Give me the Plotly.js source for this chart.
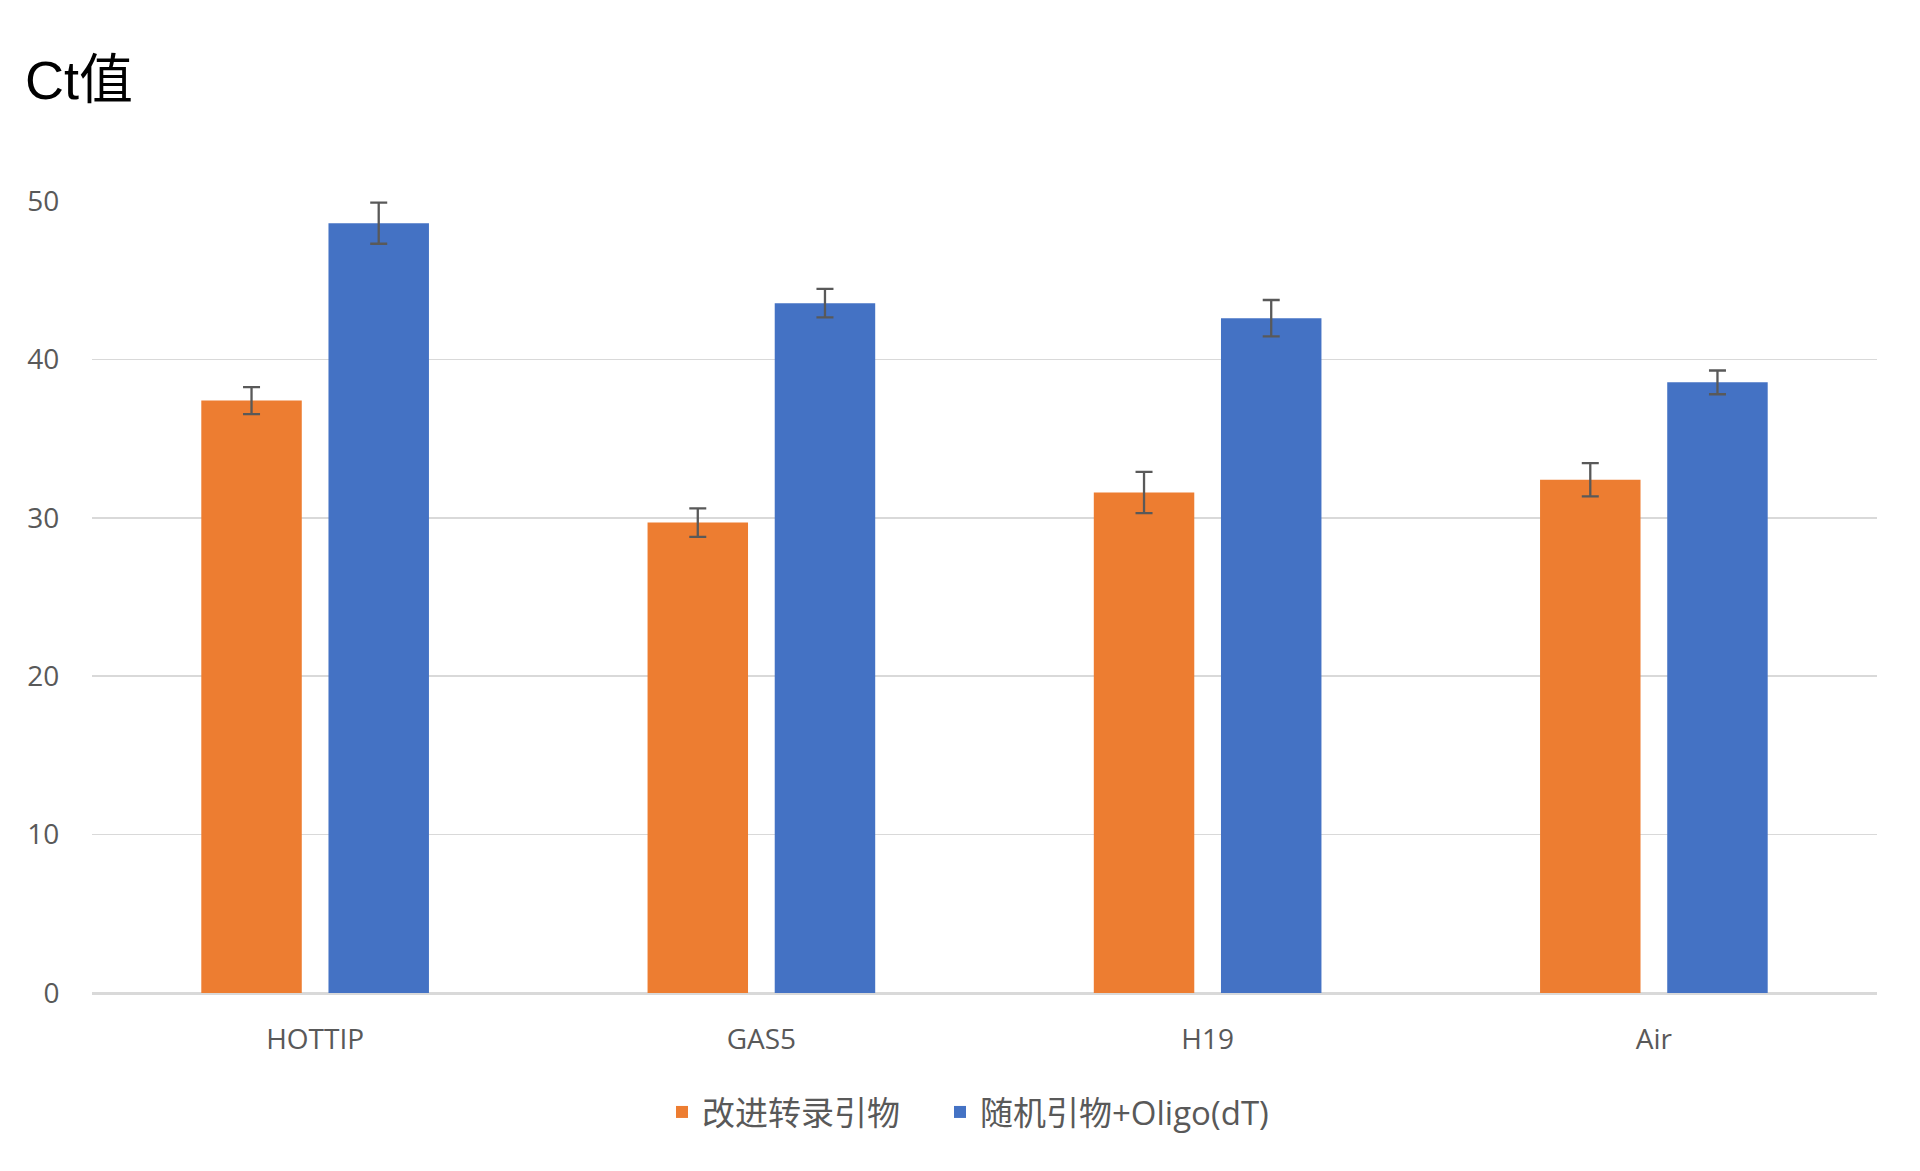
<!DOCTYPE html>
<html>
<head>
<meta charset="utf-8">
<script src="https://cdn.plot.ly/plotly-3.0.1.min.js"></script>
<style>html,body{margin:0;padding:0;background:#fff;}#chart{width:1920px;height:1171px;}</style>
</head>
<body>
<div id="chart"></div>
<script>
const categories = ["HOTTIP", "GAS5", "H19", "Air"];
const seriesNames = ["改进转录引物", "随机引物+Oligo(dT)"];
const improvedValues = [37.4, 29.7, 31.6, 32.4];
const improvedErrors = [0.85, 0.9, 1.3, 1.05];
const randomValues = [48.6, 43.55, 42.6, 38.55];
const randomErrors = [1.3, 0.9, 1.15, 0.75];
const yTicks = [0, 10, 20, 30, 40, 50];

const cjk = '"Liberation Sans", "Noto Sans CJK SC", sans-serif';
const uiFont = '"Open Sans", "Noto Sans CJK SC", sans-serif';

const errStyle = {type: 'data', visible: true, color: '#595959', thickness: 2.3, width: 8.5};

const traces = [
  {type: 'bar', name: seriesNames[0], x: categories, y: improvedValues,
   marker: {color: '#ED7D31'}, legend: 'legend',
   error_y: Object.assign({array: improvedErrors}, errStyle)},
  {type: 'bar', name: seriesNames[1], x: categories, y: randomValues,
   marker: {color: '#4472C4'}, legend: 'legend2',
   error_y: Object.assign({array: randomErrors}, errStyle)}
];

const legendBase = {
  orientation: 'h', xanchor: 'left', xref: 'container', yref: 'container',
  y: 1 - 1112/1171, yanchor: 'middle',
  font: {family: uiFont, size: 33, color: '#595959'}, itemwidth: 30
};

const layout = {
  width: 1920, height: 1171,
  paper_bgcolor: '#fff', plot_bgcolor: '#fff',
  margin: {l: 92, r: 43, t: 201, b: 178},
  barmode: 'group', bargap: 0.43, bargroupgap: 0.21,
  title: {text: 'Ct值', font: {family: cjk, size: 54, color: '#000'},
          xref: 'container', x: 0.013, xanchor: 'left',
          yref: 'container', y: 0.932, yanchor: 'middle'},
  xaxis: {tickfont: {family: uiFont, size: 28, color: '#595959'},
          showline: true, linecolor: '#D9D9D9', linewidth: 2,
          ticks: 'outside', ticklen: 20, tickcolor: 'rgba(0,0,0,0)',
          showgrid: false},
  yaxis: {range: [0, 50], tickvals: yTicks, ticktext: yTicks.map(String),
          tickfont: {family: uiFont, size: 28, color: '#595959'},
          showgrid: true, gridcolor: '#D9D9D9', gridwidth: 1.5,
          zeroline: true, zerolinecolor: '#D9D9D9', zerolinewidth: 2,
          ticks: 'outside', ticklen: 26, tickcolor: 'rgba(0,0,0,0)',
          showline: false},
  showlegend: true,
  legend: Object.assign({}, legendBase, {x: 662/1920}),
  legend2: Object.assign({}, legendBase, {x: 940/1920})
};

Plotly.newPlot('chart', traces, layout, {staticPlot: true, displayModeBar: false});
</script>
</body>
</html>
